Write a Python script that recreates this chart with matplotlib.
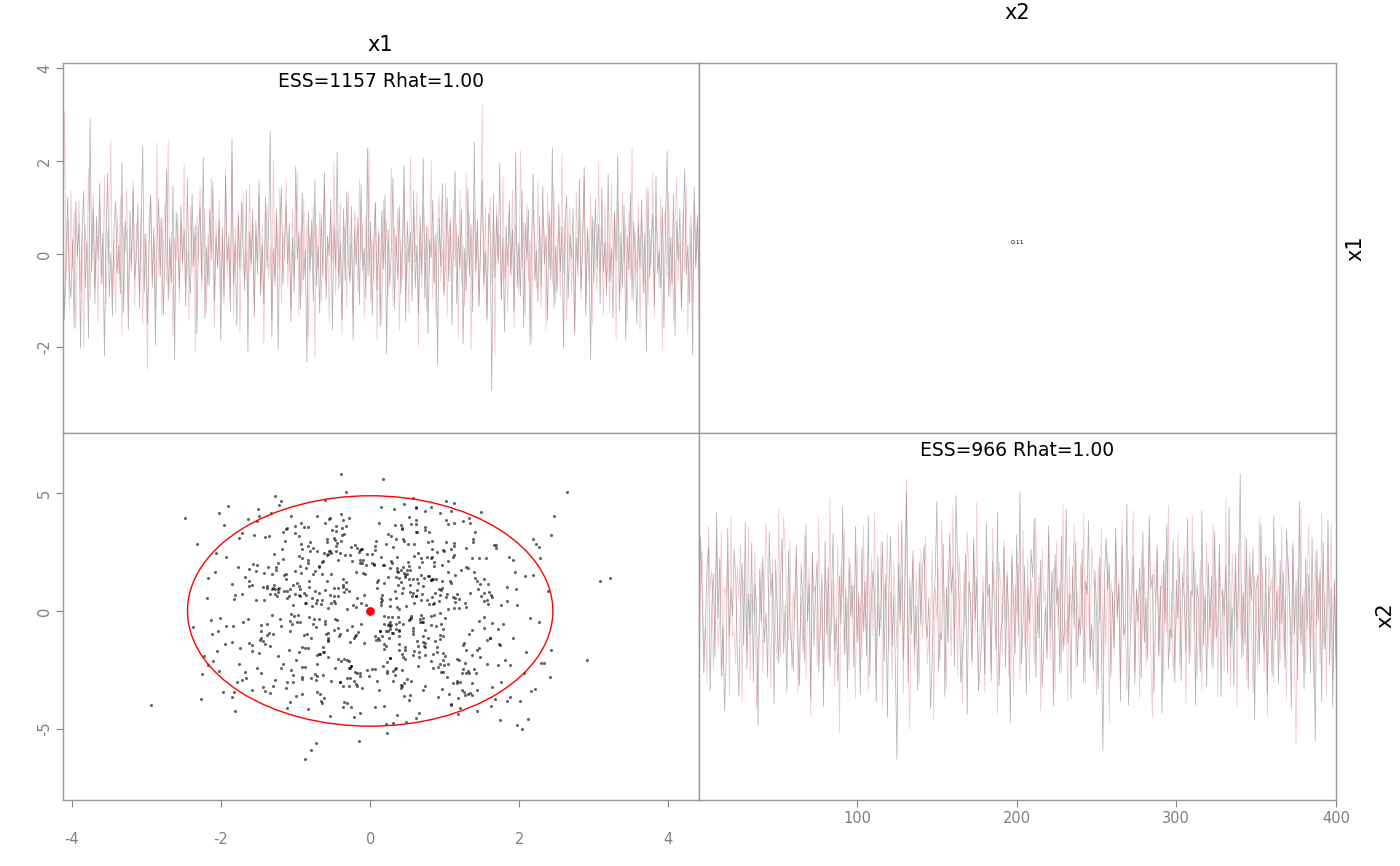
import matplotlib.pyplot as plt
from matplotlib.patches import Ellipse
import numpy as np

# trace values (two chains, 400 draws each)
x1_chain1 = [
    0.87, -1.41, 0.16, 1.23, -0.49, -0.94, 0.31, -1.58, 1.12, -0.07, 0.66, -2.03, 0.55, 1.36, -0.72, 0.24, -1.81, 2.91, -0.38, 0.98,
    -1.07, 0.81, -0.12, 1.52, -0.63, 0.45, -2.19, 0.29, 1.74, -0.93, 0.02, -1.34, 0.58, 1.13, -0.41, 0.19, -0.86, 1.97, -1.26, 0.71,
    0.36, -1.62, 0.93, -0.27, 1.41, -0.54, -0.09, 1.08, -1.17, 0.68, 2.33, -0.82, 0.44, -1.49, 0.15, 1.26, -0.71, 0.57, -1.95, 0.23,
    1.19, -0.46, 0.78, -1.31, 0.05, 1.83, -0.99, 0.33, -0.61, 1.47, -2.27, 0.89, 0.21, -0.74, 1.04, -0.18, 0.52, -1.13, 1.62, -0.39,
    -0.85, 1.29, -0.26, 0.62, -1.72, 0.47, 1.01, -0.53, 2.08, -1.38, 0.14, -0.69, 0.96, -0.11, 1.55, -1.02, 0.37, -0.28, 0.74, -1.86,
    0.58, -0.92, 1.69, -0.17, 0.41, -1.24, 2.46, -0.63, 0.27, -1.53, 0.83, -0.35, 1.12, 0.06, -0.78, 1.38, -2.11, 0.49, -0.22, 0.95,
    -1.36, 0.72, -0.43, 1.57, -0.88, 0.19, -1.07, 1.24, -0.31, 0.53, 2.64, -1.78, 0.11, -0.59, 0.99, -2.05, 0.36, 1.43, -0.64, 0.28,
    1.05, -0.21, 0.67, -1.46, 0.34, -0.83, 1.88, -0.12, 0.46, -1.19, 1.31, -0.56, 0.08, -2.32, 0.91, -0.37, 0.73, -1.01, 1.59, -0.69,
    0.17, -1.27, 0.85, -0.48, 1.76, -0.96, 0.39, -0.04, 1.18, -1.63, 0.62, -0.29, 2.19, -0.75, 0.24, -1.41, 0.97, -0.57, 1.34, -0.13,
    -0.61, 1.02, -1.85, 0.55, -0.24, 0.79, -1.09, 1.49, -0.36, 0.13, -0.94, 2.27, -0.47, 0.68, -1.32, 0.31, 1.11, -0.78, 0.42, -1.56,
    0.93, -0.33, 1.27, -2.14, 0.52, -0.67, 0.09, 1.64, -1.18, 0.38, -0.54, 1.03, -0.86, 0.25, 1.91, -1.44, 0.71, -0.19, 0.47, -1.01,
    1.36, -0.74, 0.18, -1.29, 0.84, -0.43, 2.06, -0.95, 0.59, -1.71, 0.32, -0.08, 1.16, -0.62, 0.44, -2.38, 0.77, -0.26, 1.52, -0.89,
    -0.14, 1.21, -0.58, 0.69, -1.52, 0.27, 1.78, -1.06, 0.41, -0.31, 0.96, -1.93, 0.12, -0.79, 1.41, -0.48, 0.63, -1.24, 2.41, -0.35,
    0.74, -1.11, 0.29, 1.58, -0.66, 0.07, -1.39, 0.88, 0.45, -2.94, 1.29, -0.52, 0.83, -0.19, 1.96, -0.98, 0.36, -1.67, 0.61, -0.27,
    1.14, -0.43, 0.52, -1.23, 2.18, -0.71, 0.24, -0.91, 1.37, -1.58, 0.66, -0.13, 0.95, -1.96, 0.33, 1.72, -0.57, 0.08, -1.04, 0.81,
    -0.68, 1.46, -0.22, 0.37, -1.43, 0.89, -0.55, 2.29, -1.16, 0.16, -0.81, 1.08, -0.37, 0.59, -2.03, 0.73, 1.25, -0.94, 0.43, -0.11,
    0.98, -1.68, 0.34, -0.46, 1.61, -0.77, 0.21, 1.87, -1.32, 0.55, -0.06, -2.26, 0.82, -0.63, 1.19, -0.29, 0.64, -1.07, 1.43, -0.39,
    0.26, -0.89, 1.73, -0.58, 0.12, -1.37, 0.92, -0.18, 2.12, -1.22, 0.47, -0.71, 1.05, -1.84, 0.38, -0.34, 1.31, -0.96, 0.69, -0.02,
    -1.49, 0.63, -0.28, 1.17, -0.83, 0.44, -2.08, 1.39, -0.51, 0.27, 0.86, -1.12, 1.66, -0.41, 0.09, -0.73, 1.02, -1.58, 0.56, 2.21,
    -0.92, 0.35, -0.64, 1.28, -1.76, 0.71, -0.15, 0.97, -1.21, 0.49, 1.83, -0.44, 0.18, -1.05, 0.62, -2.17, 1.44, -0.26, 0.84, -0.57,
]
x1_chain2 = [
    0.21, 3.08, -0.55, 0.74, -1.19, 1.36, -0.33, 0.92, -1.62, 0.06, 1.14, -0.81, 0.47, -2.02, 0.63, -0.14, 1.83, -0.96, 0.28, 1.27,
    -0.72, 0.39, -1.47, 1.05, 0.17, -0.64, 1.69, -1.08, 0.52, -0.23, 2.43, -0.89, 0.31, -1.28, 0.86, -0.41, 1.21, -1.74, 0.58, 0.03,
    1.42, -0.94, 0.12, -0.37, 1.57, -1.13, 0.68, 0.25, -0.79, 0.97, -1.51, 0.44, -0.08, -2.48, 0.83, 1.28, -0.56, 0.34, -1.19, 2.39,
    -0.47, 0.76, -1.34, 0.19, 1.11, -0.62, 2.42, -0.91, 0.48, -1.77, 0.36, -0.15, 0.87, -1.04, 0.64, -0.29, 1.92, -0.73, 0.09, -1.43,
    1.03, -0.39, 0.57, -2.12, 0.81, -0.18, 1.46, -0.84, 0.22, 0.96, -1.25, 0.43, -0.67, 1.64, -0.04, -1.57, 0.71, -0.32, 1.18, -0.93,
    0.38, -1.09, 1.81, -0.46, 0.13, -0.77, 2.16, -1.36, 0.59, -0.21, 0.93, -1.68, 0.27, 1.33, -0.58, 0.07, -0.98, 1.52, -0.35, 0.66,
    -1.23, 0.49, -0.14, 1.27, -0.83, 0.61, -1.94, 0.34, 1.06, -0.52, 0.17, -1.41, 2.04, -0.69, 0.82, -0.27, 1.39, -1.06, 0.45, -0.11,
    1.61, -0.71, 0.28, -1.17, 0.94, -0.43, 0.06, 1.74, -1.31, 0.53, -0.86, 1.19, -0.36, 0.72, -1.83, 0.41, -0.09, 1.05, -2.23, 0.62,
    -0.31, 0.88, -1.03, 0.15, 1.49, -0.64, 0.36, -1.46, 0.79, -0.19, 1.97, -0.87, 0.51, -0.42, 1.12, -1.72, 0.24, 0.67, -1.16, 1.34,
    -0.56, 0.27, -1.29, 0.95, 0.43, -0.82, 1.58, -0.13, 0.69, -1.38, 0.84, -0.47, 2.27, -1.01, 0.33, -0.61, 1.09, -1.86, 0.54, 0.18,
    -1.52, 1.16, -0.24, 0.73, -0.91, 0.39, 1.86, -1.11, 0.58, -0.06, 0.99, -1.64, 0.31, -0.53, 1.43, -0.77, 0.14, -1.27, 2.09, -0.38,
    0.82, -0.18, 1.31, -1.97, 0.46, -0.73, 1.07, 0.22, -1.22, 0.64, -0.44, 2.01, -0.96, 0.37, -1.39, 0.55, 1.24, -0.61, 0.11, -0.84,
    1.53, -1.33, 0.41, 0.78, -0.57, 1.16, -0.26, 0.63, -1.81, 1.37, -0.69, 0.19, -1.13, 1.72, -0.32, 0.89, -2.07, 0.48, 0.96, -0.47,
    0.57, -1.14, 0.26, 3.21, -0.79, 1.02, -1.48, 0.35, 1.23, -0.63, 0.74, -2.18, 1.08, -0.21, 0.43, -0.97, 1.67, -0.54, 0.16, -1.26,
    0.91, -0.49, 1.38, -1.59, 0.62, 0.05, -0.88, 2.22, -0.35, 0.68, -1.32, 1.11, -0.58, 0.29, -1.91, 0.97, 0.33, -0.74, 1.56, -0.12,
    -1.17, 0.84, 0.44, -1.63, 1.29, -0.31, 0.79, -0.66, 1.47, -1.06, 0.21, 0.53, -0.92, 2.14, -0.43, 0.71, -1.44, 0.38, 1.02, -0.87,
    0.14, -1.76, 1.34, -0.22, 0.83, -0.99, 0.51, 1.62, -1.12, 0.42, -0.61, 1.26, -1.53, 0.74, 0.02, -0.82, 1.94, -0.36, 0.59, -1.31,
    1.08, -0.72, 0.24, -1.27, 1.53, -0.46, 0.81, -1.83, 1.14, 0.39, -0.92, 1.33, -0.19, 0.66, -1.46, 0.93, -0.54, 2.28, -1.01, 0.47,
    -0.41, 1.13, -1.64, 0.71, 0.23, -0.84, 1.43, -1.12, 0.52, -0.27, 1.76, -1.34, 0.83, 0.31, -0.73, 1.22, -2.04, 0.61, 1.01, -0.49,
    1.32, -0.93, 0.41, -1.44, 0.76, 1.64, -0.62, 0.26, -1.13, 0.94, -0.39, 1.46, -1.72, 0.53, 0.86, -1.03, 1.12, -0.31, 0.64, -1.52,
]
x2_chain1 = [
    -1.27, 3.16, 0.48, -2.64, -0.83, 1.92, 2.71, -3.38, 0.12, 1.57, -1.96, 4.18, -0.29, 2.24, -2.77, -0.61, -4.25, -2.10, 3.52, -1.08,
    0.94, -0.21, 2.62, 1.38, -1.73, -3.61, 0.55, 2.03, -1.44, 3.76, -2.47, 0.71, -0.97, 2.89, -3.02, 1.18, 0.33, -4.87, 1.76, -0.45,
    2.31, -1.36, -0.08, -2.83, 3.34, 0.67, 1.61, -3.94, 2.19, -0.16, -2.21, 1.04, 3.07, -1.79, 0.26, -3.46, 2.57, -0.74, -1.42, -2.55,
    0.53, 2.78, -1.15, -3.17, 1.99, 0.42, -2.09, 3.66, -0.44, 1.14, -3.73, 2.49, -1.51, 0.86, 2.12, -2.62, -0.37, 1.58, -4.06, 2.97,
    -0.99, 1.87, -2.35, 0.62, 3.31, -1.68, -0.31, -2.98, 1.49, -0.57, 4.43, -1.84, 0.97, -3.29, 2.26, -0.23, 1.09, -2.41, 3.59, -1.32,
    0.76, -3.54, 2.69, -0.89, 1.25, -1.93, 4.04, -2.74, 0.49, 1.72, 0.61, -3.86, 2.36, -1.07, 0.22, 2.93, -2.13, 1.56, -4.53, 0.88,
    3.17, -1.48, 0.62, -2.26, -6.31, 1.97, -0.42, 3.83, -2.07, 0.81, 5.08, -3.04, 1.33, -0.96, 2.54, -1.71, 0.19, -3.37, 2.07, -0.58,
    1.64, 2.81, -0.46, -1.13, 0.57, -4.17, -2.29, 0.34, 1.61, 4.66, -2.57, -0.93, -1.24, 2.84, -3.64, 1.02, -1.35, 3.31, 0.79, 1.86,
    -2.34, 4.91, 1.93, 0.42, -3.04, -1.76, -0.82, 2.43, -4.39, 1.27, 0.64, -2.13, 3.08, -0.33, 1.44, -3.41, -2.61, -1.22, 0.77, -2.65,
    3.73, 0.61, 1.14, -2.96, 2.12, 0.29, -1.64, 4.22, -3.17, -0.84, -0.45, 2.73, -2.42, 1.53, -0.16, -4.76, 2.31, 0.54, -1.83, 3.24,
    -1.04, 5.06, -2.23, -0.39, 1.91, -3.54, 0.98, -0.51, 2.63, 1.42, 3.94, -2.81, 0.66, -1.14, 2.18, -3.23, -1.32, 0.17, -2.04, 3.61,
    -0.83, 1.68, -4.03, 2.44, 0.31, 0.99, -2.62, 3.18, -1.71, -0.48, 4.33, -1.38, 0.73, -3.72, 1.87, -0.69, 2.92, -2.33, -0.27, -1.02,
    2.59, -3.03, 1.28, 0.72, 3.82, -1.99, -0.57, -2.52, 1.73, 0.09, -3.33, 2.28, -1.23, -5.93, 1.42, 3.09, 0.91, 2.02, -2.79, 0.82,
    -1.55, 3.54, -0.26, 1.14, -3.85, 2.76, -1.01, -0.63, 4.56, -4.01, -1.65, 0.36, 2.31, -3.12, 0.94, -0.45, 1.83, -2.84, 3.36, -1.34,
    0.55, -2.06, 4.01, 0.94, 1.54, -3.46, -0.26, 2.64, -1.88, 1.09, -4.35, 2.15, -0.54, 3.67, -2.46, -0.76, -1.15, 2.99, -3.04, 1.31,
    -0.34, 2.25, -2.97, 1.64, 0.46, -1.75, 3.92, -2.23, 0.84, 0.66, 2.54, -3.99, 1.11, 0.35, -2.56, 4.24, -1.46, 0.65, -3.21, 2.03,
    -0.75, 1.46, -2.44, 3.39, -1.16, -0.57, 2.86, -3.65, 0.94, -0.21, 1.94, -2.66, 4.42, -1.53, 0.14, -3.17, 2.45, -0.86, 1.29, 5.81,
    -2.02, 0.77, -1.39, 3.05, -3.34, 1.88, 0.44, 2.66, -4.61, 0.96, 1.55, -2.24, 3.71, -0.63, -1.66, 2.36, -3.55, 1.07, -0.49, -2.76,
    4.03, -1.26, 0.84, -3.08, 2.17, -0.55, 1.66, -2.45, 3.44, 1.81, 0.35, -4.14, 2.79, -0.98, 1.25, -2.94, 4.66, -1.44, 0.62, -3.33,
    2.24, -0.76, 1.57, -2.64, 3.12, -1.05, -5.52, 2.59, -0.36, 1.75, -3.83, 2.91, -1.62, -0.56, 3.87, -2.31, 0.95, -4.09, 1.34, -1.97,
]
x2_chain2 = [
    -4.82, 1.26, 2.53, -1.87, -0.64, -3.05, 3.61, 0.93, 1.78, -2.46, 0.37, 2.92, -1.54, -0.28, 3.36, -2.75, 1.03, 0.67, 2.14, -3.58,
    4.03, -1.07, -0.86, -2.24, 1.95, 0.46, 2.81, -3.87, 1.34, 0.25, -1.68, 3.57, -2.96, 0.74, -0.15, 2.47, -4.13, -1.56, -0.84, 2.06,
    -2.63, 0.95, 3.74, 1.36, 0.47, -3.27, 2.25, -0.54, -1.16, -2.07, 4.34, -1.95, 0.66, 3.97, 2.64, 0.17, -1.26, 3.05, -2.44, 0.83,
    -0.35, 2.31, -3.48, -1.42, 0.59, -1.73, 3.24, -2.89, 0.21, 1.87, -4.43, 2.52, 0.78, 1.09, -2.32, 3.94, -1.17, 0.33, -2.98, 1.61,
    0.72, -2.14, 4.81, -0.99, 1.33, -3.18, -0.42, 2.77, -5.21, 1.94, 0.63, 3.49, -1.82, 0.58, -2.53, 2.01, -0.29, 1.24, -3.71, 2.83,
    -1.41, 0.62, -2.08, 3.63, -0.85, 1.57, -3.39, -0.94, 2.32, -1.06, 4.18, -2.61, 0.23, -0.98, 2.94, -4.07, 1.19, 0.43, 3.28, -1.73,
    0.81, -2.88, 2.04, 0.36, -1.59, 3.71, -0.62, 1.44, -3.53, 2.48, 5.62, -1.39, -5.04, 0.76, 2.27, -2.41, 1.65, -0.12, -3.06, 2.63,
    -1.13, 0.48, 3.19, -2.27, -1.21, -0.74, 2.58, -4.62, 0.99, -0.36, 1.83, -2.09, 3.87, 1.42, 0.51, -3.29, 2.16, 0.07, -1.91, 4.43,
    -0.82, 1.37, -2.74, 2.29, 0.63, -3.91, 1.72, -0.58, 3.38, 1.64, 0.24, -2.37, 2.86, -1.08, 4.61, -2.93, -0.87, -0.34, 1.53, -3.47,
    2.42, -0.76, 1.09, -2.58, 3.52, 1.27, 0.31, -4.36, 2.07, 0.98, -1.84, 3.03, -0.47, 1.68, -2.72, -0.54, 2.63, -3.64, 1.12, -0.23,
    1.97, -2.96, -0.64, 3.43, -1.53, -0.87, 2.28, -3.04, 1.36, 0.26, -2.29, 3.92, -0.93, 1.58, -4.24, 2.67, 0.38, 0.92, -1.76, 3.25,
    -2.13, 0.57, 1.84, -3.46, 2.97, -0.68, 1.27, -2.64, 4.52, -1.48, -0.39, -3.83, 2.34, -0.27, 1.06, 3.68, -2.47, 0.89, -1.14, 2.03,
    -0.74, 4.16, -3.13, 1.48, 0.12, -2.06, 2.73, 1.37, 0.69, -3.57, 1.92, -0.56, 3.47, -2.28, 0.93, -1.54, 2.48, -4.72, 1.29, 0.34,
    -1.86, 2.97, -0.46, 1.41, -2.84, 3.87, -1.24, -0.57, -3.36, 2.14, -0.83, 1.39, 4.26, -2.58, 0.78, -0.16, -3.74, 2.53, -1.05, 1.88,
    -2.37, 0.63, 3.08, -1.69, -4.54, 1.97, 0.33, 2.86, -2.04, 0.47, 1.58, -3.07, 2.39, -0.94, 4.47, -1.78, 0.86, -2.67, -1.23, -0.57,
    3.34, -2.43, 0.96, 1.07, 2.68, -3.93, 1.47, 0.28, -1.97, 4.05, -0.87, 1.73, -2.79, -0.32, 2.17, -3.38, 1.04, -0.49, 2.93, -1.58,
    0.54, -2.27, 3.76, -1.14, 1.38, -3.63, 2.07, 0.68, 0.84, -2.53, 4.74, -1.36, 0.47, -3.19, 2.44, -0.26, 1.67, -4.07, 2.84, -0.97,
    1.18, -1.87, 3.27, -2.94, 0.76, 2.53, -0.58, -3.46, 1.54, 0.09, -2.38, 3.96, -1.03, 1.87, -2.64, 0.67, -4.48, 2.26, 0.74, 1.43,
    -3.04, 2.78, -0.36, 1.07, -2.17, 3.58, -1.66, 0.54, -3.77, 2.36, 0.27, -1.48, 2.96, -2.57, -5.63, 1.74, -0.86, 4.37, -1.93, 0.96,
    -2.64, 1.63, 3.67, -1.26, 0.48, -3.24, 2.47, -0.63, 1.36, -2.27, 4.14, -1.57, 0.73, -3.56, 2.08, 0.24, 3.76, -2.86, 1.17, -2.43,
]

ess = [1157, 966]
rhat = [1.00, 1.00]
corr_x1_x2 = 0.11
center = [0.0, 0.0]
ellipse_axes = [4.9, 9.8]   # full widths along x1 and x2

plt.rcParams['axes.unicode_minus'] = False
plt.rcParams['font.family'] = 'DejaVu Sans'

gray_line = (0, 0, 0, 0.3)
pink_line = (0.875, 0.325, 0.42, 0.33)
spine_col = '#9a9a9a'
tick_col = '#808080'

W, H = 1400, 866
fig = plt.figure(figsize=(W / 100, H / 100), dpi=100)
L, M, R = 63 / W, 699 / W, 1336 / W
T, Mid, B = 1 - 63 / H, 1 - 433 / H, 1 - 800 / H

ax_tl = fig.add_axes([L, Mid, M - L, T - Mid])
ax_tr = fig.add_axes([M, Mid, R - M, T - Mid])
ax_bl = fig.add_axes([L, B, M - L, Mid - B])
ax_br = fig.add_axes([M, B, R - M, Mid - B])

for ax in (ax_tl, ax_tr, ax_bl, ax_br):
    for s in ax.spines.values():
        s.set_color(spine_col)
        s.set_linewidth(1.0)
    ax.tick_params(colors=tick_col, labelcolor=tick_col, length=5, width=0.8, labelsize=10.5)
    ax.set_xticks([])
    ax.set_yticks([])

# x1 trace
ax_tl.plot(np.arange(1, len(x1_chain1) + 1), x1_chain1, color=gray_line, lw=0.55)
ax_tl.plot(np.arange(1, len(x1_chain2) + 1), x1_chain2, color=pink_line, lw=0.55)
ax_tl.set_xlim(1, 400)
ax_tl.set_ylim(-3.85, 4.11)
ax_tl.set_yticks([-2, 0, 2, 4])
ax_tl.tick_params(axis='y', pad=3)
plt.setp(ax_tl.get_yticklabels(), rotation=90, va='center')
ax_tl.text(0.5, 0.949, f"ESS={ess[0]} Rhat={rhat[0]:.2f}", transform=ax_tl.transAxes,
           ha='center', va='center', fontsize=13.5)

# correlation cell
ax_tr.text(0.5, 0.515, f"{corr_x1_x2:.2f}", transform=ax_tr.transAxes,
           ha='center', va='center', fontsize=4.5)

# scatter x1 vs x2
ax_bl.scatter(x1_chain1 + x1_chain2, x2_chain1 + x2_chain2, s=5, color='black',
              alpha=0.6, linewidths=0)
ax_bl.add_patch(Ellipse(center, ellipse_axes[0], ellipse_axes[1], fill=False,
                        edgecolor='red', lw=1.0))
ax_bl.scatter([center[0]], [center[1]], s=28, color='red', zorder=3)
ax_bl.set_xlim(-4.12, 4.41)
ax_bl.set_ylim(-8.04, 7.57)
ax_bl.set_xticks([-4, -2, 0, 2, 4])
ax_bl.set_yticks([-5, 0, 5])
ax_bl.tick_params(axis='x', pad=18)
ax_bl.tick_params(axis='y', pad=3)
plt.setp(ax_bl.get_yticklabels(), rotation=90, va='center')

# x2 trace
ax_br.plot(np.arange(1, len(x2_chain1) + 1), x2_chain1, color=gray_line, lw=0.55)
ax_br.plot(np.arange(1, len(x2_chain2) + 1), x2_chain2, color=pink_line, lw=0.55)
ax_br.set_xlim(1, 400)
ax_br.set_ylim(-8.04, 7.57)
ax_br.set_xticks([100, 200, 300, 400])
ax_br.tick_params(axis='x', pad=3)
ax_br.text(0.5, 0.951, f"ESS={ess[1]} Rhat={rhat[1]:.2f}", transform=ax_br.transAxes,
           ha='center', va='center', fontsize=13.5)

# variable labels
fig.text(380 / W, 1 - 45 / H, "x1", ha='center', va='center', fontsize=15)
fig.text(1017 / W, 1 - 13 / H, "x2", ha='center', va='center', fontsize=15)
fig.text(1355 / W, 1 - 248 / H, "x1", ha='center', va='center', fontsize=15, rotation=90)
fig.text(1385 / W, 1 - 615 / H, "x2", ha='center', va='center', fontsize=15, rotation=90)

fig.savefig("out.png", dpi=100)
